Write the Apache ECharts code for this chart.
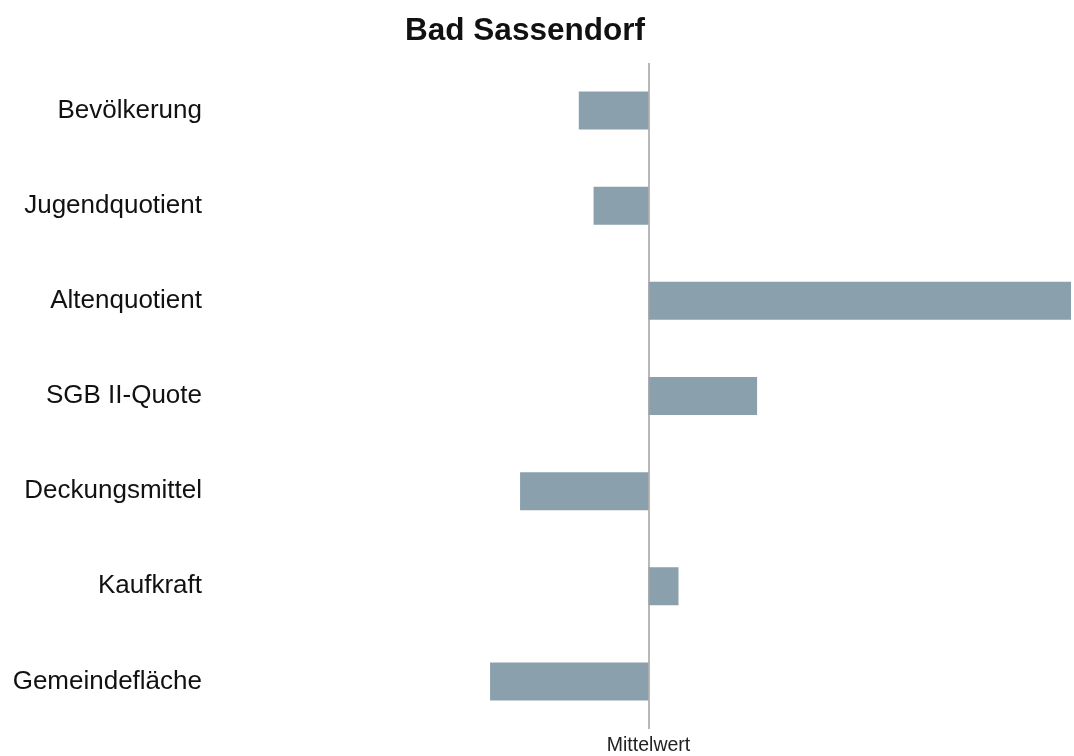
<!DOCTYPE html>
<html>
<head>
<meta charset="utf-8">
<script src="https://cdn.jsdelivr.net/npm/echarts@6/dist/echarts.min.js"></script>
<style>html,body{margin:0;padding:0;background:#fff}#c{width:1074px;height:756px}</style>
</head>
<body>
<div id="c"></div>
<script>
const title = 'Bad Sassendorf';
const categories = ['Bevölkerung','Jugendquotient','Altenquotient','SGB II-Quote','Deckungsmittel','Kaufkraft','Gemeindefläche'];
const values = [-0.165, -0.13, 1.0, 0.257, -0.304, 0.071, -0.375];
const zeroLabel = 'Mittelwert';
const FONT = '"Liberation Sans", Arial, sans-serif';

const chart = echarts.init(document.getElementById('c'), null, {renderer:'canvas'});
chart.setOption({
  backgroundColor:'#ffffff',
  animation:false,
  title:{text:title,left:520,top:10,textAlign:'center',
    textStyle:{fontFamily:FONT,fontSize:31.5,fontWeight:'bold',color:'#111'}},
  grid:{left:226,right:0,top:63,bottom:27,containLabel:false},
  xAxis:{type:'value',min:-1,max:1,interval:1,
    axisLine:{show:false},axisTick:{show:false},splitLine:{show:false},
    axisLabel:{margin:7,formatter:v=>v===0?zeroLabel:'',
      fontFamily:FONT,fontSize:19.5,color:'#222'}},
  yAxis:{type:'category',data:categories,inverse:true,
    axisLine:{show:false},axisTick:{show:false},splitLine:{show:false},
    axisLabel:{margin:24,fontFamily:FONT,fontSize:26,color:'#111'}},
  series:[{type:'bar',data:values,barWidth:38,
    itemStyle:{color:'#8ba0ad'},
    markLine:{silent:true,symbol:'none',label:{show:false},
      lineStyle:{color:'#a0a0a0',width:1.5,type:'solid'},
      data:[{xAxis:0}]}}]
});
</script>
</body>
</html>
